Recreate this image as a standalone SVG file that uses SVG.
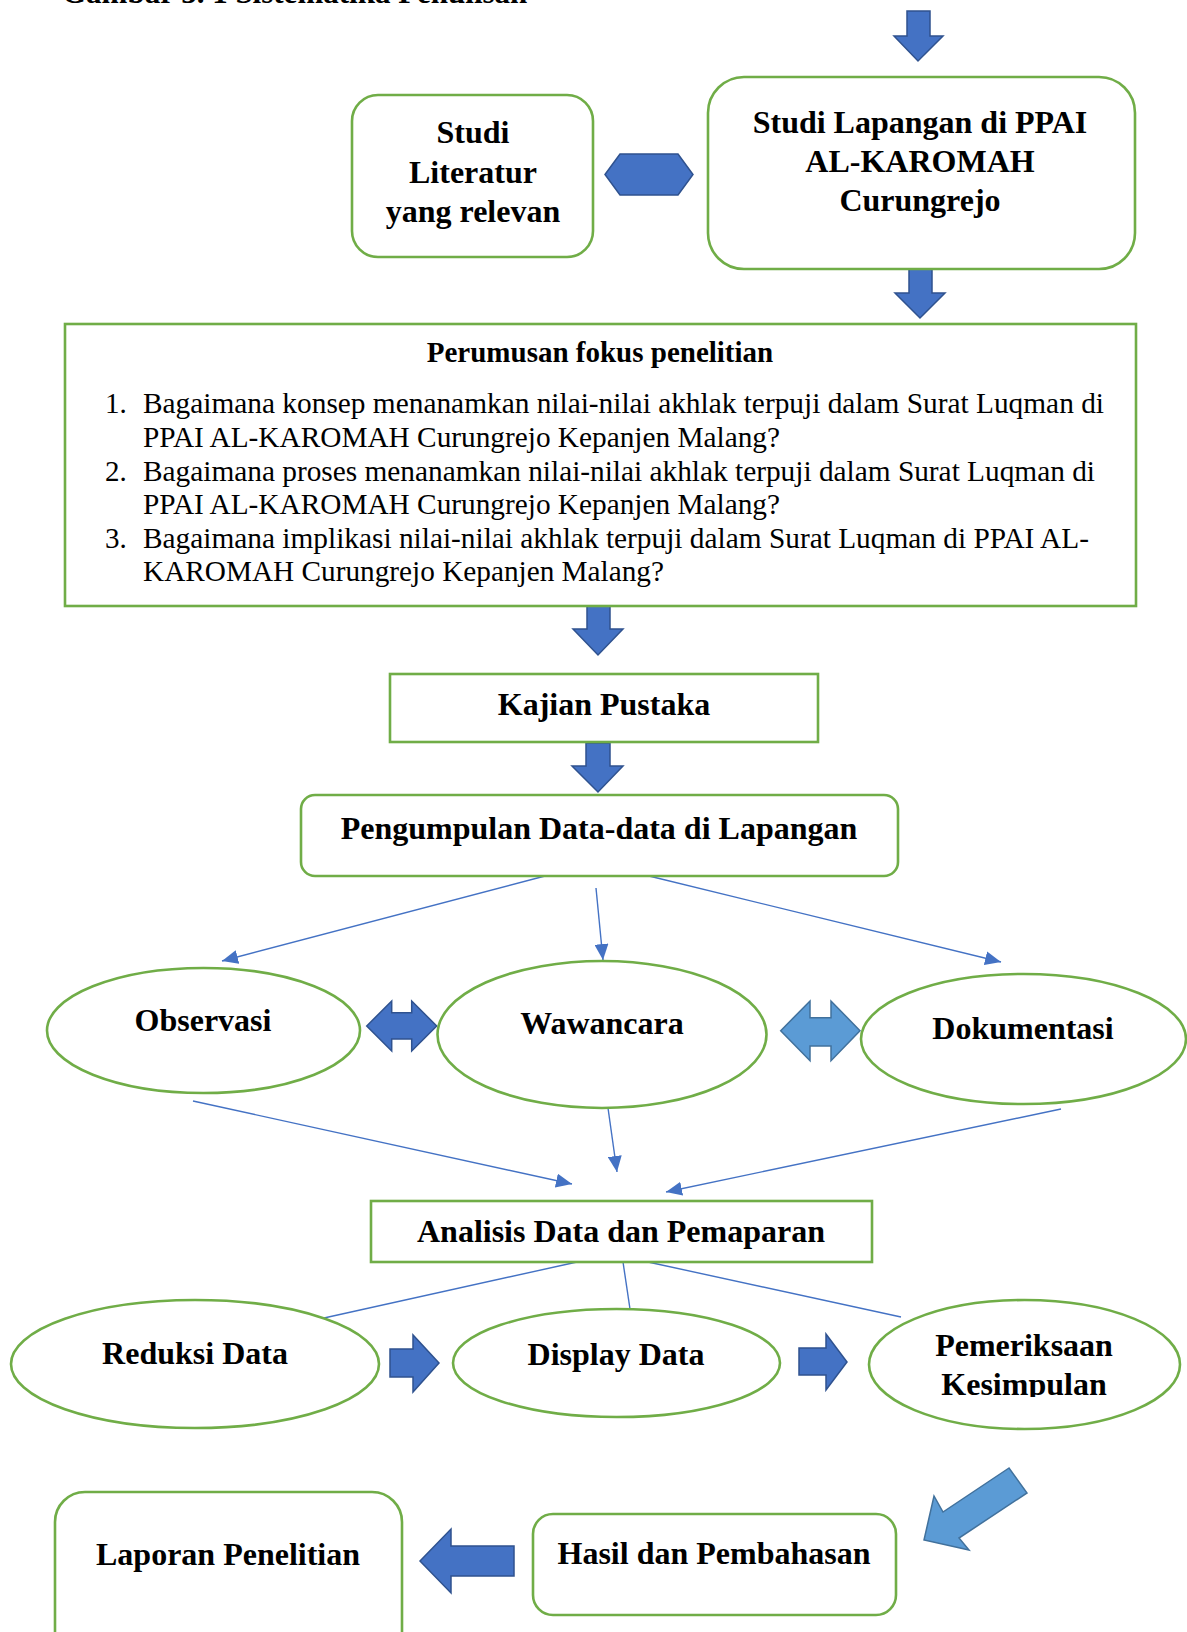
<svg xmlns="http://www.w3.org/2000/svg" width="1187" height="1632" viewBox="0 0 1187 1632">
<style>
.t{font-family:"Liberation Serif","Times New Roman",serif;font-weight:bold;font-size:32px;fill:#000;text-anchor:middle}
.l{font-family:"Liberation Serif","Times New Roman",serif;font-size:29px;fill:#000}
.box{fill:#fff;stroke:#70AD47;stroke-width:2.6}
.ab{fill:#4472C4;stroke:#2F528F;stroke-width:1.5;stroke-linejoin:miter}
.al{fill:#5B9BD5;stroke:#41719C;stroke-width:1.5}
.cn{stroke:#4472C4;stroke-width:1.4;fill:none}
</style>
<defs>
<marker id="ah" markerUnits="userSpaceOnUse" markerWidth="17" markerHeight="14" refX="16" refY="7" orient="auto">
<path d="M0,0 L16,7 L0,14 z" fill="#4472C4"/>
</marker>
<clipPath id="kc"><rect x="850" y="1290" width="340" height="107"/></clipPath>
</defs>
<rect width="1187" height="1632" fill="#fff"/>
<text class="t" x="62" y="2.5" style="text-anchor:start;font-size:31px">Gambar 3. 1 Sistematika Penulisan</text>

<g id="arrows">
<path class="ab" d="M907,11 H930 V36 H943 L918,61 L894,36 H907 Z"/>
<path class="ab" d="M909,269 H932 V293 H945 L920,318 L895,293 H909 Z"/>
<path class="ab" d="M605,174.5 L620,154 H678 L693,174.5 L678,195 H620 Z"/>
<path class="ab" d="M587,606 H610 V629 H623 L598,655 L573,629 H587 Z"/>
<path class="ab" d="M586,743 H610 V766 H623 L598,792 L572,766 H586 Z"/>
<path class="ab" d="M366.7,1026 L391.7,1001 V1012.7 H411.7 V1001 L436.7,1026 L411.7,1051 V1039 H391.7 V1051 Z"/>
<path class="al" d="M780.7,1030.7 L810,1001 V1017.7 H831 V1001 L860,1030.7 L831,1060.7 V1046 H810 V1060.7 Z"/>
<path class="ab" d="M390,1349 H413 V1335 L439,1363 L413,1392 V1377 H390 Z"/>
<path class="ab" d="M799,1348 H826 V1334 L847,1362 L826,1390 V1375 H799 Z"/>
<path class="ab" d="M420,1561 L451,1529 V1546 H514 V1576 H451 V1593 Z"/>
<path class="al" d="M1009,1468 L943,1512 L934,1496 L924,1540 L969,1550 L959,1538 L1027,1493 Z"/>
</g>

<g id="connectors">
<line class="cn" x1="545" y1="876" x2="222" y2="961" marker-end="url(#ah)"/>
<line class="cn" x1="596" y1="888" x2="603" y2="960" marker-end="url(#ah)"/>
<line class="cn" x1="649" y1="876" x2="1001" y2="962" marker-end="url(#ah)"/>
<line class="cn" x1="193" y1="1101" x2="572" y2="1184" marker-end="url(#ah)"/>
<line class="cn" x1="608" y1="1108" x2="617" y2="1172" marker-end="url(#ah)"/>
<line class="cn" x1="1061" y1="1109" x2="666" y2="1192" marker-end="url(#ah)"/>
<line class="cn" x1="577" y1="1262" x2="324" y2="1318"/>
<line class="cn" x1="623" y1="1262" x2="630" y2="1309"/>
<line class="cn" x1="648" y1="1262" x2="901" y2="1317"/>
</g>

<g id="studi-literatur">
<rect class="box" x="352" y="95" width="241" height="162" rx="26"/>
<text class="t" x="473" y="143">Studi</text>
<text class="t" x="473" y="183">Literatur</text>
<text class="t" x="473" y="222">yang relevan</text>
</g>

<g id="studi-lapangan">
<rect class="box" x="708" y="77" width="427" height="192" rx="36"/>
<text class="t" x="920" y="133">Studi Lapangan di PPAI</text>
<text class="t" x="920" y="172">AL-KAROMAH</text>
<text class="t" x="920" y="211">Curungrejo</text>
</g>

<g id="perumusan">
<rect class="box" x="65" y="324" width="1071" height="282"/>
<text class="t" x="600" y="362" style="font-size:29px">Perumusan fokus penelitian</text>
<text class="l" x="105" y="413">1.</text>
<text class="l" x="143" y="413" textLength="961" lengthAdjust="spacingAndGlyphs">Bagaimana konsep menanamkan nilai-nilai akhlak terpuji dalam Surat Luqman di</text>
<text class="l" x="143" y="447" textLength="637" lengthAdjust="spacingAndGlyphs">PPAI AL-KAROMAH Curungrejo Kepanjen Malang?</text>
<text class="l" x="105" y="481">2.</text>
<text class="l" x="143" y="481" textLength="952" lengthAdjust="spacingAndGlyphs">Bagaimana proses menanamkan nilai-nilai akhlak terpuji dalam Surat Luqman di</text>
<text class="l" x="143" y="514" textLength="637" lengthAdjust="spacingAndGlyphs">PPAI AL-KAROMAH Curungrejo Kepanjen Malang?</text>
<text class="l" x="105" y="548">3.</text>
<text class="l" x="143" y="548" textLength="946" lengthAdjust="spacingAndGlyphs">Bagaimana implikasi nilai-nilai akhlak terpuji dalam Surat Luqman di PPAI AL-</text>
<text class="l" x="143" y="581" textLength="521" lengthAdjust="spacingAndGlyphs">KAROMAH Curungrejo Kepanjen Malang?</text>
</g>

<g id="kajian-pustaka">
<rect class="box" x="390" y="674" width="428" height="68"/>
<text class="t" x="604" y="715">Kajian Pustaka</text>
</g>

<g id="pengumpulan">
<rect class="box" x="301" y="795" width="597" height="81" rx="14"/>
<text class="t" x="599" y="839">Pengumpulan Data-data di Lapangan</text>
</g>

<g id="observasi">
<ellipse class="box" cx="203.5" cy="1030.5" rx="156.5" ry="62.5"/>
<text class="t" x="203" y="1031">Observasi</text>
</g>
<g id="wawancara">
<ellipse class="box" cx="602" cy="1034.5" rx="164.5" ry="73.5"/>
<text class="t" x="602" y="1034">Wawancara</text>
</g>
<g id="dokumentasi">
<ellipse class="box" cx="1023.5" cy="1039" rx="162.5" ry="65"/>
<text class="t" x="1023" y="1039">Dokumentasi</text>
</g>

<g id="analisis">
<rect class="box" x="371" y="1201" width="501" height="61"/>
<text class="t" x="621" y="1242">Analisis Data dan Pemaparan</text>
</g>

<g id="reduksi">
<ellipse class="box" cx="195" cy="1364" rx="184" ry="64"/>
<text class="t" x="195" y="1364">Reduksi Data</text>
</g>
<g id="display">
<ellipse class="box" cx="616.5" cy="1363" rx="163.5" ry="54"/>
<text class="t" x="616" y="1365">Display Data</text>
</g>
<g id="pemeriksaan">
<ellipse class="box" cx="1024.5" cy="1364.5" rx="155.5" ry="64.5"/>
<g clip-path="url(#kc)">
<text class="t" x="1024" y="1356">Pemeriksaan</text>
<text class="t" x="1024" y="1395">Kesimpulan</text>
</g>
</g>

<g id="laporan">
<rect class="box" x="55" y="1492" width="347" height="200" rx="30"/>
<text class="t" x="228" y="1565">Laporan Penelitian</text>
</g>
<g id="hasil">
<rect class="box" x="533" y="1514" width="363" height="101" rx="20"/>
<text class="t" x="714" y="1564">Hasil dan Pembahasan</text>
</g>
</svg>
